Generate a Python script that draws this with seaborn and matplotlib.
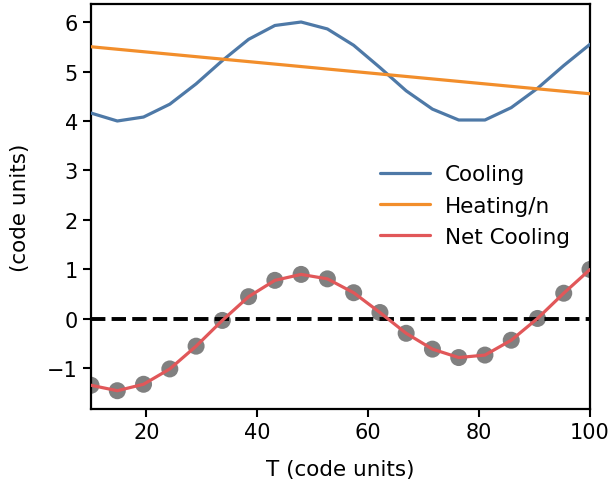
import numpy as np
import pandas as pd
import matplotlib
matplotlib.use("Agg")
import matplotlib.pyplot as plt
import seaborn as sns

# Temperature grid and rates (code units)
temperature = [10.0, 14.74, 19.47, 24.21, 28.95, 33.68, 38.42, 43.16, 47.89, 52.63,
               57.37, 62.11, 66.84, 71.58, 76.32, 81.05, 85.79, 90.53, 95.26, 100.0]
cooling = [4.16, 4.00, 4.08, 4.34, 4.75, 5.22, 5.65, 5.93, 6.00, 5.86,
           5.53, 5.08, 4.61, 4.24, 4.02, 4.02, 4.27, 4.66, 5.12, 5.55]
heating = [5.50, 5.45, 5.40, 5.35, 5.30, 5.25, 5.20, 5.15, 5.10, 5.05,
           5.00, 4.95, 4.90, 4.85, 4.80, 4.75, 4.70, 4.65, 4.60, 4.55]
net_cooling = [-1.34, -1.45, -1.32, -1.01, -0.55, -0.03, 0.45, 0.78, 0.90, 0.81,
               0.53, 0.13, -0.29, -0.61, -0.78, -0.73, -0.43, 0.01, 0.52, 1.00]
x_ticks = [20, 40, 60, 80, 100]
y_ticks = [-1, 0, 1, 2, 3, 4, 5, 6]

sns.set_theme(style="ticks")
plt.rcParams.update({
    "font.family": ["DejaVu Sans"],
    "text.color": "black",
    "axes.labelcolor": "black",
    "axes.edgecolor": "black",
    "xtick.color": "black",
    "ytick.color": "black",
    "axes.linewidth": 1.6,
    "xtick.major.width": 1.5,
    "ytick.major.width": 1.5,
    "xtick.major.size": 6,
    "ytick.major.size": 6,
})

df = pd.DataFrame({"T": temperature, "Cooling": cooling,
                   "Heating/n": heating, "Net Cooling": net_cooling})

fig = plt.figure(figsize=(6.13, 4.85), dpi=100)
ax = fig.add_axes([0.1485, 0.1546, 0.8140, 0.8357])

blue, orange, red = "#4e79a7", "#f28e2b", "#e15759"

sns.lineplot(data=df, x="T", y="Cooling", ax=ax, color=blue, lw=2.3,
             label="Cooling", zorder=3)
sns.lineplot(data=df, x="T", y="Heating/n", ax=ax, color=orange, lw=2.3,
             label="Heating/n", zorder=3)
sns.scatterplot(data=df, x="T", y="Net Cooling", ax=ax, color="#808080",
                s=150, edgecolor="none", zorder=2, legend=False)
ax.axhline(0, color="black", ls="--", lw=2.8, zorder=2.5)
sns.lineplot(data=df, x="T", y="Net Cooling", ax=ax, color=red, lw=2.3,
             label="Net Cooling", zorder=4)

ax.set_xlim(10, 100)
ax.set_ylim(-1.82, 6.37)
ax.set_xticks(x_ticks)
ax.set_yticks(y_ticks)
ax.set_yticklabels(["\u22121", "0", "1", "2", "3", "4", "5", "6"])
ax.tick_params(labelsize=15)
ax.set_xlabel("T (code units)", fontsize=15.5, labelpad=12)
ax.set_ylabel("(code units)", fontsize=15.5, labelpad=12)

ax.legend(loc="upper left", bbox_to_anchor=(0.541, 0.652), frameon=False,
          fontsize=15.5, handlelength=2.3, handletextpad=0.7, labelspacing=0.53)

fig.savefig("out.png", dpi=100)
